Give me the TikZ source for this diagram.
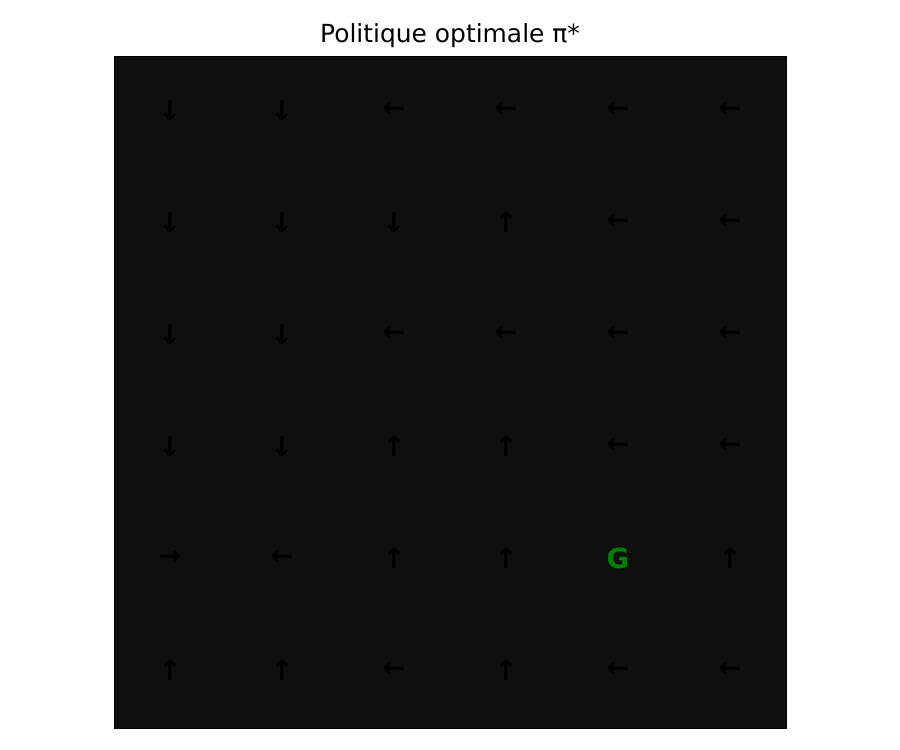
\documentclass[tikz,border=0pt]{standalone}
\usepackage{fontspec}
\setmainfont{DejaVu Sans}
\usetikzlibrary{positioning}
\definecolor{gridbg}{RGB}{15,15,15}
\definecolor{goalgreen}{RGB}{0,128,0}

\begin{document}
\begin{tikzpicture}[x=0.01in, y=-0.01in,
	every node/.style={inner sep=0pt},
	arrowcell/.style={font=\fontsize{20}{20}\selectfont\bfseries, text=black},
	goalcell/.style={font=\fontsize{20}{20}\selectfont\bfseries, text=goalgreen}]
		\useasboundingbox (0,0) rectangle (900,750);
		
		% Board
		\draw[fill=gridbg, draw=black, line width=0.6pt] (114,56) rectangle (786,728);
		\node (title) at (450,36) {\fontsize{18}{18}\selectfont Politique optimale π*};
		
		% Policy arrows (column/row/symbol)
		\foreach \c/\r/\s in {0/0/↓,1/0/↓,2/0/←,3/0/←,4/0/←,5/0/←,
			0/1/↓,1/1/↓,2/1/↓,3/1/↑,4/1/←,5/1/←,
			0/2/↓,1/2/↓,2/2/←,3/2/←,4/2/←,5/2/←,
			0/3/↓,1/3/↓,2/3/↑,3/3/↑,4/3/←,5/3/←,
			0/4/→,1/4/←,2/4/↑,3/4/↑,5/4/↑,
			0/5/↑,1/5/↑,2/5/←,3/5/↑,4/5/←,5/5/←}
			\node[arrowcell] (c\r\c) at ({170+112*\c},{110+112*\r}) {\s};
		
		% Goal
		\node[goalcell] (c44) at (618,558) {G};
		
	\end{tikzpicture}
\end{document}
